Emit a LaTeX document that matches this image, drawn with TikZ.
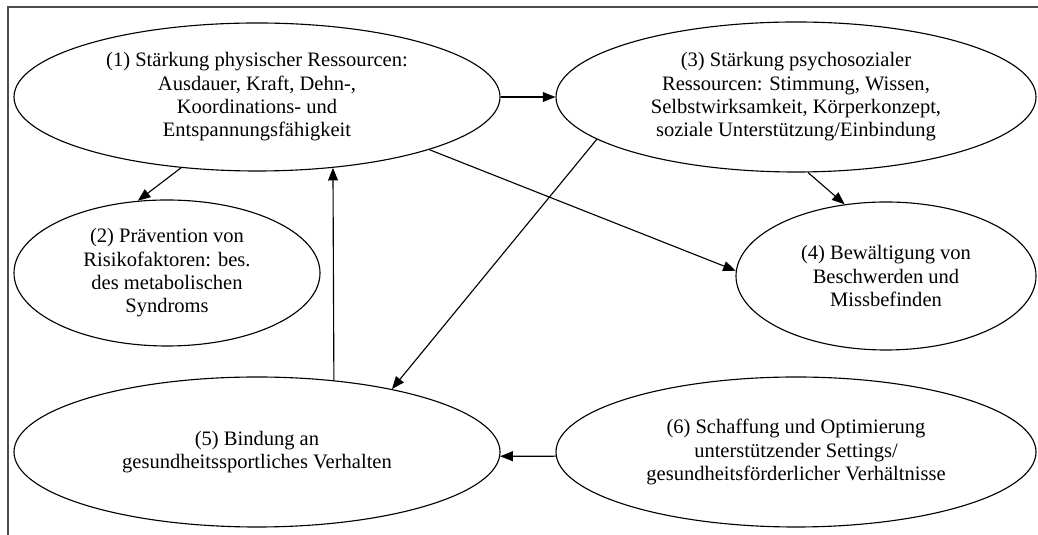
\documentclass[tikz,border=0pt]{standalone}
\usepackage{fontspec}
\setmainfont{Liberation Serif}
\usepackage{tikz}
\usetikzlibrary{shapes.geometric, arrows.meta}
\tikzstyle{goal} = [ellipse, draw=black, line width=0.8pt, inner sep=0pt, align=center, font=\fontsize{14.6}{16.6}\selectfont]
\tikzstyle{arrow} = [line width=0.8pt,-{Triangle[length=9pt,width=7pt]}]

\begin{document}
\begin{tikzpicture}[node distance=1cm]
\useasboundingbox (0,0) rectangle (25.95,13.375);
\draw [black!70, line width=1.5pt] (0.2,0) -- (0.2,13.2) -- (25.95,13.2);

\node (staerk) [goal, minimum width=12.15cm, minimum height=3.7cm] at (6.425,10.95) {(1) Stärkung physischer Ressourcen:\\Ausdauer, Kraft, Dehn-,\\Koordinations- und\\Entspannungsfähigkeit};
\node (psycho) [goal, right of=staerk, xshift=12.475cm, minimum width=12cm, minimum height=3.75cm] {(3) Stärkung psychosozialer\\Ressourcen: Stimmung, Wissen,\\Selbstwirksamkeit, Körperkonzept,\\soziale Unterstützung/Einbindung};
\draw [arrow] (staerk.east) -- (psycho.west);

\node (praev) [goal, below of=staerk, xshift=-2.25cm, yshift=-3.4cm, minimum width=7.65cm, minimum height=3.65cm] {(2) Prävention von\\Risikofaktoren: bes.\\des metabolischen\\Syndroms};
\draw [arrow] (staerk.223) -- (praev.112);

\node (bewaelt) [goal, below of=psycho, xshift=2.25cm, yshift=-3.475cm, minimum width=7.5cm, minimum height=3.7cm] {(4) Bewältigung von\\Beschwerden und\\Missbefinden};
\draw [arrow] (psycho.279) -- (bewaelt.120);
\draw [arrow] (staerk.-17) -- (bewaelt.178);

\node (bindung) [goal, below of=praev, xshift=2.25cm, yshift=-3.475cm, minimum width=12.15cm, minimum height=3.75cm] {(5) Bindung an\\gesundheitssportliches Verhalten};
\draw [arrow] (bindung.43) -- (staerk.-43);
\draw [arrow] (psycho.192.7) -- (bindung.25.5);

\node (settings) [goal, right of=bindung, xshift=12.475cm, minimum width=12cm, minimum height=3.75cm] {(6) Schaffung und Optimierung\\unterstützender Settings/\\gesundheitsförderlicher Verhältnisse};
\draw [arrow] (settings.181) -- (bindung.-1);

\end{tikzpicture}
\end{document}
